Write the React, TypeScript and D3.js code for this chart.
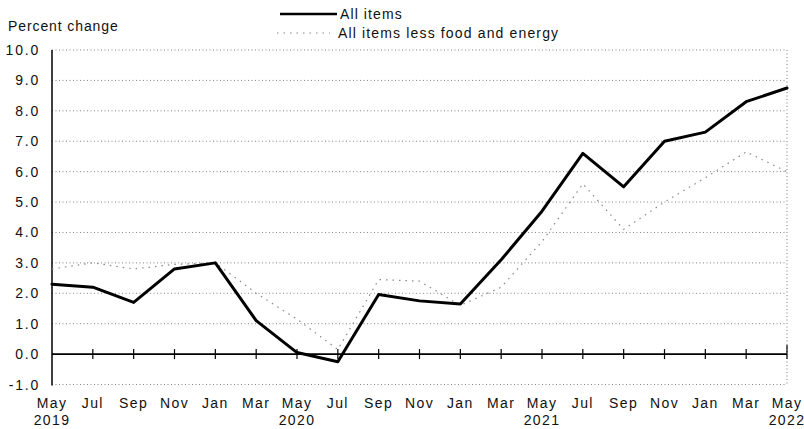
import React from "react";
import * as d3 from "d3";

const months = ["May", "Jul", "Sep", "Nov", "Jan", "Mar", "May", "Jul", "Sep", "Nov", "Jan", "Mar", "May", "Jul", "Sep", "Nov", "Jan", "Mar", "May"];
const years = ["2019", "", "", "", "", "", "2020", "", "", "", "", "", "2021", "", "", "", "", "", "2022"];
const allItems = [2.3, 2.2, 1.7, 2.8, 3.0, 1.1, 0.05, -0.25, 1.96, 1.75, 1.65, 3.1, 4.7, 6.6, 5.5, 7.0, 7.3, 8.3, 8.75];
const coreItems = [2.8, 3.0, 2.8, 2.95, 3.0, 2.0, 1.15, 0.15, 2.45, 2.4, 1.6, 2.2, 3.7, 5.6, 4.1, 5.0, 5.8, 6.65, 6.0];
const yTicks = [-1, 0, 1, 2, 3, 4, 5, 6, 7, 8, 9, 10];

const W = 804;
const H = 429;
const font = "'Liberation Sans', Arial, sans-serif";

const App = () => {
  const idx = months.map((_, i) => i);
  const x = d3.scalePoint<number>().domain(idx).range([52, 787]);
  const y = d3.scaleLinear().domain([-1, 10]).range([384.5, 50]);
  const line = d3.line<number>().x((_, i) => x(i)!).y(d => y(d));
  const x0 = x(0)!;
  const x1 = x(idx.length - 1)!;

  return (
    <svg width={W} height={H} style={{ position: "absolute", left: 0, top: 0, background: "#fff" }}>
      <text x={8} y={31} fontFamily={font} fontSize={14} letterSpacing={0.9} fill="#111">Percent change</text>

      {/* legend */}
      <line x1={280} x2={337} y1={14} y2={14} stroke="#000" strokeWidth={2.5} />
      <text x={340} y={19} fontFamily={font} fontSize={14} letterSpacing={1.1} fill="#111">All items</text>
      <line x1={277} x2={330} y1={33} y2={33} stroke="#888" strokeWidth={1.2} strokeDasharray="1.5,5" />
      <text x={338} y={38} fontFamily={font} fontSize={14} letterSpacing={1.15} fill="#111">All items less food and energy</text>

      {/* gridlines and y labels */}
      {yTicks.map(t => (
        <g key={t}>
          {t !== 0 && (
            <line x1={x0} x2={x1} y1={y(t)} y2={y(t)} stroke="#777" strokeWidth={0.9} strokeDasharray="1,2.5" />
          )}
          <text x={40} y={y(t) + 5} textAnchor="end" fontFamily={font} fontSize={14} letterSpacing={1.8} fill="#111">
            {t.toFixed(1)}
          </text>
        </g>
      ))}

      {/* frame */}
      <line x1={x0} x2={x0} y1={y(10)} y2={y(-1) + 1} stroke="#000" strokeWidth={1.5} />
      <line x1={x1} x2={x1} y1={y(10)} y2={y(-1)} stroke="#777" strokeWidth={1} strokeDasharray="1,2.5" />
      <line x1={x0} x2={x1} y1={y(0)} y2={y(0)} stroke="#000" strokeWidth={1.6} />
      {idx.slice(1).map(i => (
        <line key={i} x1={x(i)} x2={x(i)} y1={y(0) - (i === idx.length - 1 ? 9 : 5)} y2={y(0) + 5} stroke="#000" strokeWidth={1.2} />
      ))}

      {/* series */}
      <path d={line(coreItems)!} fill="none" stroke="#888" strokeWidth={1.2} strokeDasharray="1.5,5" />
      <path d={line(allItems)!} fill="none" stroke="#000" strokeWidth={3} strokeLinejoin="round" strokeLinecap="round" />

      {/* x labels */}
      {months.map((m, i) => (
        <g key={i}>
          <text x={x(i)} y={408} textAnchor="middle" fontFamily={font} fontSize={14} letterSpacing={1.4} fill="#111">{m}</text>
          {years[i] && (
            <text x={x(i)} y={425} textAnchor="middle" fontFamily={font} fontSize={14} letterSpacing={1.4} fill="#111">{years[i]}</text>
          )}
        </g>
      ))}
    </svg>
  );
};

export default App;
